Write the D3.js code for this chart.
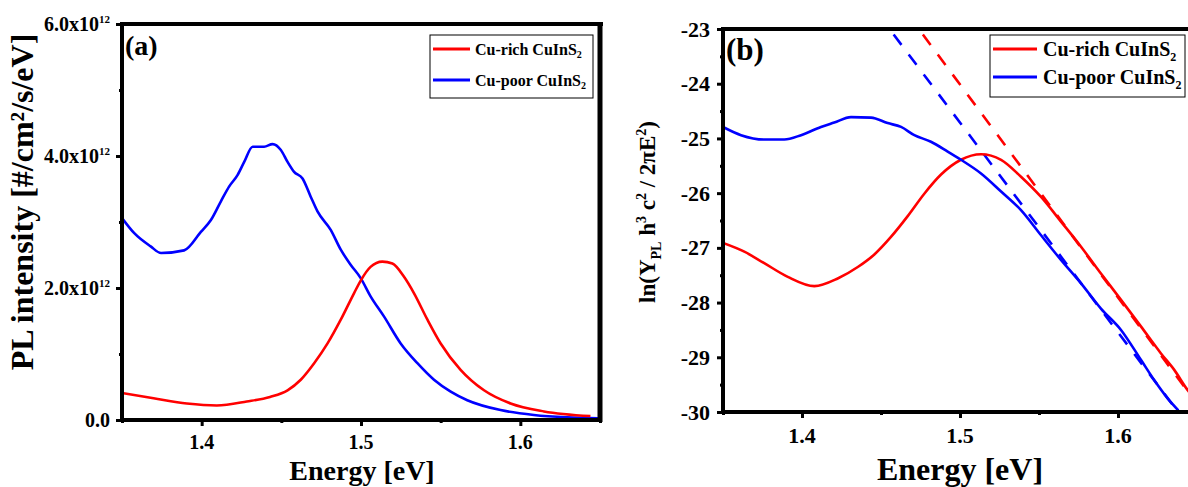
<!DOCTYPE html>
<html><head><meta charset="utf-8">
<script src="https://cdn.jsdelivr.net/npm/d3@7"></script>
<style>
body{margin:0;background:#fff}
text{font-family:"Liberation Serif","Times New Roman",serif;font-weight:bold;fill:#000}
</style>
</head><body>
<svg id="chart" width="1188" height="487"></svg>
<script>
// ---------- Panel (a): PL intensity (units of 1e12 #/cm2/s/eV) ----------
const energyRichA = [1.350,1.3698,1.3907,1.4095,1.4283,1.4429,1.4539,1.4622,1.4706,1.479,1.4873,1.4956,1.500,1.506,1.5134,1.5197,1.527,1.5333,1.5417,1.550,1.5625,1.5772,1.5939,1.6148,1.644];
const plRichA     = [0.41,0.33,0.25,0.22,0.28,0.35,0.45,0.61,0.86,1.16,1.52,1.92,2.12,2.32,2.40,2.37,2.17,1.92,1.52,1.16,0.76,0.45,0.25,0.13,0.06];
const energyPoorA = [1.350,1.3577,1.368,1.3745,1.389,1.3995,1.4058,1.412,1.4173,1.4225,1.4267,1.432,1.4392,1.4445,1.4497,1.4539,1.458,1.4633,1.4685,1.4727,1.481,1.4873,1.4936,1.4998,1.5061,1.5144,1.5249,1.5354,1.5458,1.5563,1.5667,1.5876,1.6085,1.6294,1.649];
const plPoorA     = [3.06,2.83,2.63,2.53,2.57,2.85,3.03,3.31,3.54,3.71,3.91,4.14,4.14,4.18,4.09,3.91,3.76,3.66,3.38,3.16,2.88,2.58,2.35,2.15,1.87,1.57,1.16,0.86,0.61,0.43,0.30,0.15,0.076,0.04,0.025];
const yTicksA = [0,2,4,6];
const yTickLabelsA = ["0.0","2.0x10","4.0x10","6.0x10"];
const yTickExpA = ["","12","12","12"];
const yMinorA = [1,3,5];

// ---------- Panel (b): ln(Y_PL h^3 c^2 / 2 pi E^2) ----------
const energyRichB = [1.350,1.3635,1.3761,1.391,1.4078,1.4226,1.4353,1.4458,1.4563,1.4669,1.4774,1.488,1.5006,1.5133,1.526,1.5386,1.5513,1.5639,1.5766,1.5892,1.6019,1.6146,1.6272,1.6356,1.6441,1.650];
const lnRichB     = [-26.91,-27.07,-27.28,-27.53,-27.70,-27.56,-27.35,-27.12,-26.80,-26.42,-26.01,-25.66,-25.39,-25.29,-25.39,-25.70,-26.07,-26.52,-26.98,-27.47,-27.95,-28.44,-28.93,-29.23,-29.60,-29.80];
const energyPoorB = [1.350,1.3614,1.3761,1.3888,1.3994,1.412,1.4204,1.431,1.4437,1.4542,1.4627,1.4711,1.4816,1.4922,1.5006,1.5133,1.526,1.5386,1.5513,1.5639,1.5766,1.5892,1.6019,1.6146,1.623,1.6314,1.6382];
const lnPoorB     = [-24.79,-24.94,-25.02,-25.02,-24.94,-24.79,-24.71,-24.61,-24.62,-24.72,-24.79,-24.94,-25.06,-25.24,-25.39,-25.64,-25.97,-26.31,-26.77,-27.22,-27.65,-28.11,-28.50,-29.05,-29.42,-29.75,-29.97];
const fitRichE  = [1.4765,1.650];
const fitRichLn = [-23.1,-29.85];
const fitPoorE  = [1.458,1.638];
const fitPoorLn = [-23.1,-30.0];
const yTicksB = [-30,-29,-28,-27,-26,-25,-24,-23];
const yMinorB = [-29.5,-28.5,-27.5,-26.5,-25.5,-24.5,-23.5];

const xTicks = [1.4,1.5,1.6];
const xMinor = [1.35,1.45,1.55,1.65];
const seriesNames = ["Cu-rich CuInS","Cu-poor CuInS"];
const seriesColors = ["#ff0000","#0000ff"];

const zip = (a,b) => a.map((v,i)=>[v,b[i]]);
const svg = d3.select("#chart");

function rich(parent, x, y, segs, size, anchor, transform){
  const t = parent.append("text").attr("x",x).attr("y",y)
    .attr("font-size",size).attr("text-anchor",anchor||"start");
  if(transform) t.attr("transform",transform);
  let cur = 0;
  segs.forEach(s=>{
    const sh = s.shift||0;
    t.append("tspan").attr("dy", sh-cur).attr("font-size", s.size||size).text(s.t);
    cur = sh;
  });
  return t;
}

function drawAxes(g, x, y, cfg){
  const [x0,x1] = x.range(); const [yb,yt] = y.range();
  g.append("g").attr("transform",`translate(${x0},0)`)
    .call(d3.axisLeft(y).tickValues(cfg.yMinor).tickSize(3).tickFormat("").tickSizeOuter(0))
    .call(s=>{s.select(".domain").remove(); s.selectAll("line").attr("stroke-width",3);});
  g.append("g").attr("transform",`translate(0,${yb})`)
    .call(d3.axisBottom(x).tickValues(cfg.xMinor).tickSize(3).tickFormat("").tickSizeOuter(0))
    .call(s=>{s.select(".domain").remove(); s.selectAll("line").attr("stroke-width",3);});
  g.append("g").attr("transform",`translate(${x0},0)`)
    .call(d3.axisLeft(y).tickValues(cfg.yTicks).tickSize(6).tickFormat("").tickSizeOuter(0))
    .call(s=>{s.select(".domain").remove(); s.selectAll("line").attr("stroke-width",3);});
  g.append("g").attr("transform",`translate(0,${yb})`)
    .call(d3.axisBottom(x).tickValues(xTicks).tickSize(6).tickFormat("").tickSizeOuter(0))
    .call(s=>{s.select(".domain").remove(); s.selectAll("line").attr("stroke-width",3);});
  g.append("line").attr("x1",x0).attr("x2",x0).attr("y1",yt-2).attr("y2",yb+2).attr("stroke","#000").attr("stroke-width",4);
  g.append("line").attr("x1",x0-2).attr("x2",x1+2).attr("y1",yb).attr("y2",yb).attr("stroke","#000").attr("stroke-width",4);
  g.append("line").attr("x1",x0-2).attr("x2",x1+3).attr("y1",yt).attr("y2",yt).attr("stroke","#000").attr("stroke-width",4);
  g.append("line").attr("x1",x1).attr("x2",x1).attr("y1",yt-2).attr("y2",yb+2).attr("stroke","#000").attr("stroke-width",5);
  xTicks.forEach(v=>{
    g.append("text").attr("x",x(v)).attr("y",yb+cfg.xLabOff).attr("text-anchor","middle")
      .attr("font-size",cfg.tickFont).text(d3.format(".1f")(v));
  });
}

function legend(g, box, rowsY, lineX, textX, font, subFont){
  g.append("rect").attr("x",box[0]).attr("y",box[1]).attr("width",box[2]).attr("height",box[3])
    .attr("fill","#fff").attr("stroke","#000").attr("stroke-width",1);
  seriesNames.forEach((n,i)=>{
    g.append("line").attr("x1",lineX[0]).attr("x2",lineX[1]).attr("y1",rowsY[i]).attr("y2",rowsY[i])
      .attr("stroke",seriesColors[i]).attr("stroke-width",3);
    rich(g, textX, rowsY[i]+font*0.36, [{t:n},{t:"2",size:subFont,shift:font*0.22}], font, "start");
  });
}

// ================= Panel (a) =================
const xA = d3.scaleLinear().domain([1.35,1.65]).range([122,600]);
const yA = d3.scaleLinear().domain([0,6]).range([420,24]);
const gA = svg.append("g");
gA.append("clipPath").attr("id","clipA").append("rect").attr("x",122).attr("y",24).attr("width",478).attr("height",396);
const lineA = d3.line().x(d=>xA(d[0])).y(d=>yA(d[1])).curve(d3.curveMonotoneX);
const plotA = gA.append("g").attr("clip-path","url(#clipA)");
plotA.append("path").datum(zip(energyPoorA,plPoorA)).attr("d",lineA).attr("fill","none").attr("stroke",seriesColors[1]).attr("stroke-width",2.6);
plotA.append("path").datum(zip(energyRichA,plRichA)).attr("d",lineA).attr("fill","none").attr("stroke",seriesColors[0]).attr("stroke-width",2.6);
drawAxes(gA, xA, yA, {yTicks:yTicksA, yMinor:yMinorA, xMinor:xMinor, xLabOff:29, tickFont:20});
yTicksA.forEach((v,i)=>{
  rich(gA, 110, yA(v)+7, [{t:yTickLabelsA[i]},{t:yTickExpA[i],size:11,shift:-8}], 20, "end");
});
gA.append("text").attr("x",362).attr("y",480).attr("text-anchor","middle").attr("font-size",28).text("Energy [eV]");
gA.append("text").attr("transform","translate(33,202) rotate(-90)").attr("text-anchor","middle").attr("font-size",32).text("PL intensity [#/cm²/s/eV]");
gA.append("text").attr("x",125).attr("y",55).attr("font-size",28).text("(a)");
legend(gA, [430,35,163,63], [49,80], [433,470], 475, 16, 10);

// ================= Panel (b) =================
const xB = d3.scaleLinear().domain([1.35,1.65]).range([723,1197]);
const yB = d3.scaleLinear().domain([-30,-23]).range([412,29]);
const gB = svg.append("g");
gB.append("clipPath").attr("id","clipB").append("rect").attr("x",723).attr("y",29).attr("width",474).attr("height",383);
const lineB = d3.line().x(d=>xB(d[0])).y(d=>yB(d[1])).curve(d3.curveMonotoneX);
const straight = d3.line().x(d=>xB(d[0])).y(d=>yB(d[1]));
const plotB = gB.append("g").attr("clip-path","url(#clipB)");
plotB.append("path").datum(zip(fitRichE,fitRichLn)).attr("d",straight)
  .attr("fill","none").attr("stroke",seriesColors[0]).attr("stroke-width",2.6).attr("stroke-dasharray","13,12");
plotB.append("path").datum(zip(fitPoorE,fitPoorLn)).attr("d",straight)
  .attr("fill","none").attr("stroke",seriesColors[1]).attr("stroke-width",2.6).attr("stroke-dasharray","13,12");
plotB.append("path").datum(zip(energyRichB,lnRichB)).attr("d",lineB).attr("fill","none").attr("stroke",seriesColors[0]).attr("stroke-width",2.6);
plotB.append("path").datum(zip(energyPoorB,lnPoorB)).attr("d",lineB).attr("fill","none").attr("stroke",seriesColors[1]).attr("stroke-width",2.6);
drawAxes(gB, xB, yB, {yTicks:yTicksB, yMinor:yMinorB, xMinor:xMinor, xLabOff:31, tickFont:22});
yTicksB.forEach(v=>{
  gB.append("text").attr("x",710).attr("y",yB(v)+7.5).attr("text-anchor","end").attr("font-size",22).text(d3.format("d")(v).replace("−","-"));
});
gB.append("text").attr("x",960).attr("y",480).attr("text-anchor","middle").attr("font-size",32).text("Energy [eV]");
rich(gB, 0, 0, [{t:"ln(Y"},{t:"PL",size:14,shift:6},{t:" h"},{t:"3",size:14,shift:-9},{t:" c"},{t:"2",size:14,shift:-9},{t:" / 2πE"},{t:"2",size:14,shift:-9},{t:")"}], 23, "middle", "translate(655,212) rotate(-90)");
gB.append("text").attr("x",726).attr("y",60).attr("font-size",31).text("(b)");
legend(gB, [990,35,195,62], [49,77], [993,1037], 1043, 20, 12);
</script>
</body></html>
